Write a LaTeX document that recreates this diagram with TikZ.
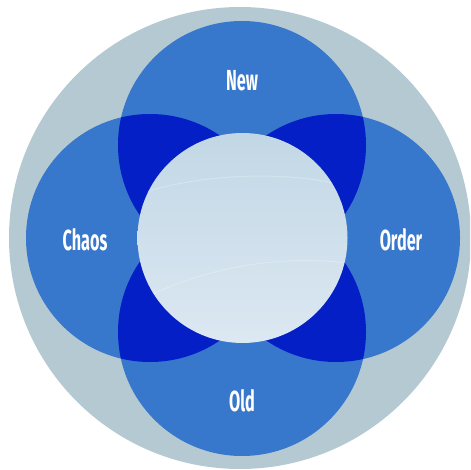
\documentclass[tikz,border=0pt]{standalone}
\usepackage{fontspec}
\newfontfamily\labelfont[FakeStretch=0.56]{Fira Sans}
\definecolor{ringbg}{HTML}{B5C9D2}
\definecolor{petalblue}{HTML}{3878CC}
\definecolor{lensblue}{HTML}{041FC6}
\definecolor{coretop}{HTML}{C2D7E5}
\definecolor{corebottom}{HTML}{DCE8F2}
\tikzset{
  petal/.style={fill=petalblue},
  lens/.style={fill=lensblue},
  petallabel/.style={text=white, font=\labelfont\bfseries\fontsize{29}{33}\selectfont, inner sep=0pt}
}
\begin{document}
\begin{tikzpicture}[x=1pt,y=-1pt]
\useasboundingbox (0,0) rectangle (470,470);
\clip (0,0) rectangle (470,470);
% outer disc
\fill[ringbg] (240,238) circle (231pt);
% petal centres
\coordinate (cN) at (242,145);
\coordinate (cW) at (150,238);
\coordinate (cE) at (336,238);
\coordinate (cS) at (242,332);
\coordinate (cC) at (242.5,238);
\foreach \c in {cN,cW,cE,cS} \fill[petal] (\c) circle (124pt);
% overlaps of neighbouring petals
\foreach \a/\b in {cN/cW,cN/cE,cS/cW,cS/cE}{
  \begin{scope}
    \clip (\a) circle (124pt);
    \fill[lens] (\b) circle (124pt);
  \end{scope}
}
% centre disc
\shade[top color=coretop, bottom color=corebottom] (cC) circle (105pt);
\begin{scope}
  \clip (cC) circle (105pt);
  \draw[white, opacity=0.25, line width=1pt] (120,200) .. controls (200,170) and (300,170) .. (360,190);
  \draw[white, opacity=0.25, line width=1pt] (140,300) .. controls (220,260) and (300,255) .. (360,265);
\end{scope}
% labels
\node[petallabel] (lnew) at (242,81) {New};
\node[petallabel] (lchaos) at (85,240) {Chaos};
\node[petallabel] (lorder) at (401,240) {Order};
\node[petallabel] (lold) at (242,401) {Old};
\end{tikzpicture}
\end{document}
